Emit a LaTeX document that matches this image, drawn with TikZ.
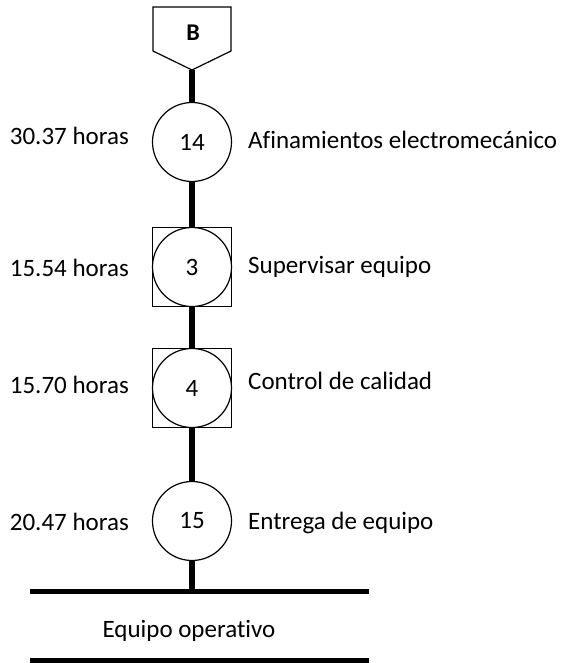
\documentclass[tikz,border=0pt]{standalone}
\usepackage{fontspec}
\setmainfont{Carlito}[Ligatures=NoCommon]
\begin{document}
\begin{tikzpicture}[x=1pt,y=-1pt,
  lbl/.style={font=\fontsize{25}{29}\selectfont, inner sep=0pt},
  act/.style={circle, draw, line width=1.2pt, minimum size=79pt, inner sep=0pt, font=\fontsize{25}{29}\selectfont},
  box/.style={rectangle, draw, line width=1.2pt, minimum size=79pt, inner sep=0pt},
  link/.style={line width=5.5pt},
  bar/.style={line width=5pt}]
\useasboundingbox (0,0) rectangle (562,663);
% off-page connector B
\draw[line width=1.2pt] (153,7) -- (231,7) -- (231,51) -- (192,70) -- (153,51) -- cycle;
\node[inner sep=0pt] (B) at (193,33) {\fontsize{24}{28}\selectfont\bfseries B};
\coordinate (Btip) at (192,70);
% activities
\node[act] (a14) at (192,142) {14};
\node[box] (s3) at (192,267) {};
\node[act] (a3) at (192,267) {3};
\node[box] (s4) at (192,388) {};
\node[act] (a4) at (192,388) {4};
\node[act] (a15) at (192,521) {15};
% connectors
\draw[link] (Btip) -- (a14.north);
\draw[link] (a14.south) -- (s3.north);
\draw[link] (s3.south) -- (s4.north);
\draw[link] (s4.south) -- (a15.north);
\coordinate (j) at (192,591.5);
\draw[link] (a15.south) -- (j);
% bars
\coordinate (b1l) at (30,591.5);
\coordinate (b1r) at (369,591.5);
\coordinate (b2l) at (30,660.5);
\coordinate (b2r) at (369,660.5);
\draw[bar] (b1l) -- (b1r);
\draw[bar] (b2l) -- (b2r);
\node[lbl, anchor=base] (eo) at (189,637) {Equipo operativo};
% times
\node[lbl, anchor=base east] (t14) at (129,145) {30.37 horas};
\node[lbl, anchor=base east] (t3) at (129,276) {15.54 horas};
\node[lbl, anchor=base east] (t4) at (129,393) {15.70 horas};
\node[lbl, anchor=base east] (t15) at (129,530) {20.47 horas};
% descriptions
\node[lbl, anchor=base west] (d14) at (248,149) {Afinamientos electromecánico};
\node[lbl, anchor=base west] (d3) at (248,273) {Supervisar equipo};
\node[lbl, anchor=base west] (d4) at (248,389) {Control de calidad};
\node[lbl, anchor=base west] (d15) at (248,529) {Entrega de equipo};
\end{tikzpicture}
\end{document}
